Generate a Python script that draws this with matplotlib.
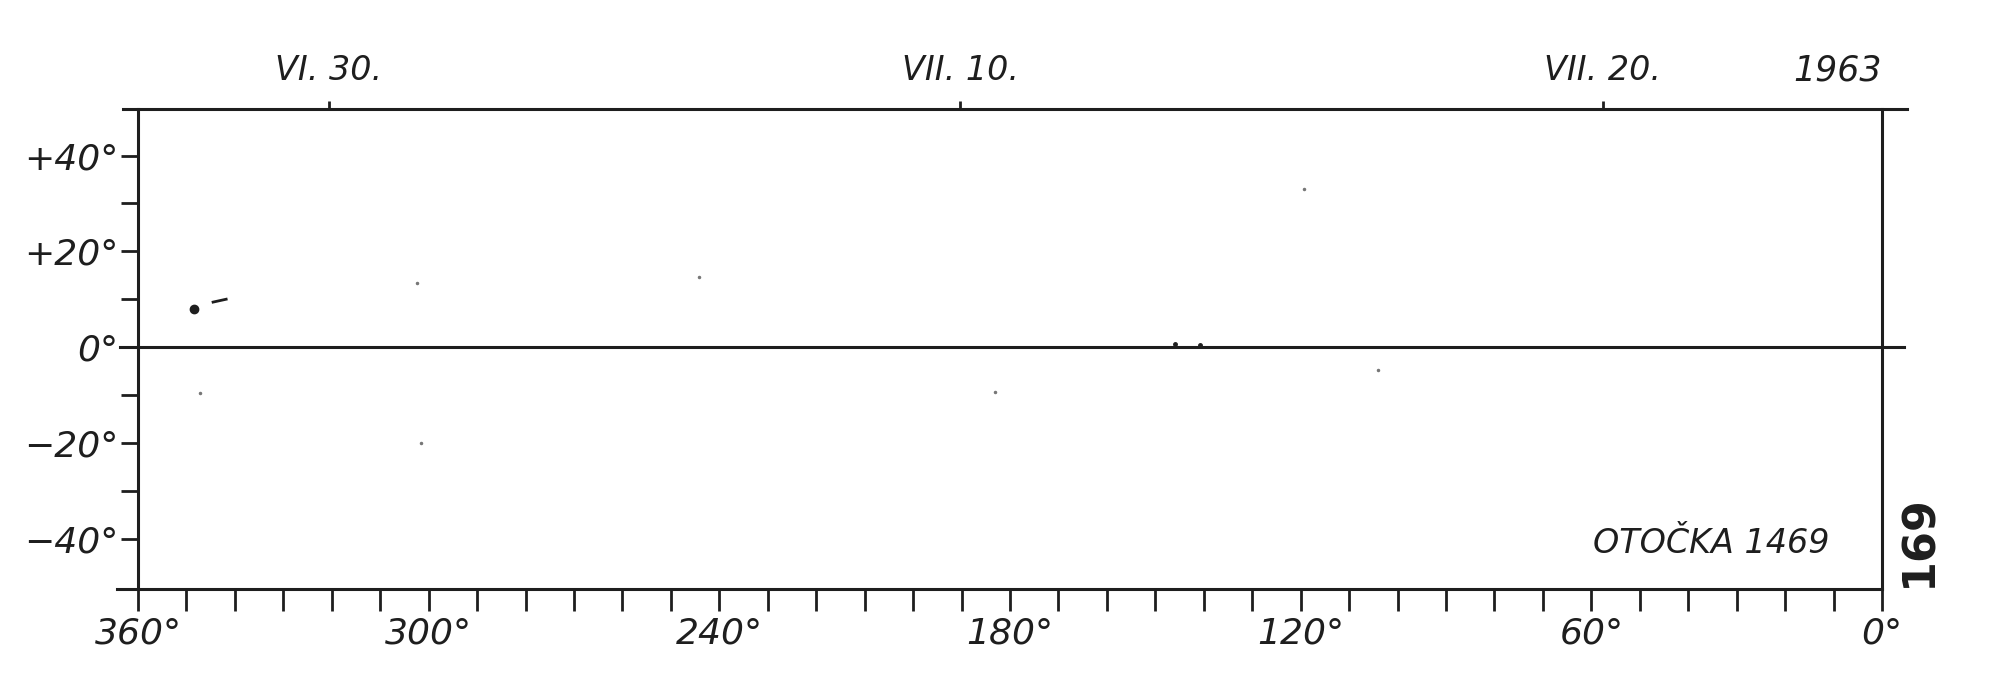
import numpy as np
import matplotlib
matplotlib.use("Agg")
import matplotlib.pyplot as plt

# chart values
lon_ticks = np.arange(0, 361, 10)
lon_labels = [360, 300, 240, 180, 120, 60, 0]
lat_ticks = np.arange(-40, 41, 10)
lat_labels = [40, 20, 0, -20, -40]
date_lon = [320.6, 190.3, 57.6]
date_text = ["VI. 30.", "VII. 10.", "VII. 20."]
year_text = "1963"
rotation_text = "OTOČKA 1469"
page_text = "169"

# spots
spot_lon = [348.4]
spot_lat = [7.9]
small_lon = [145.9, 140.8]
small_lat = [0.6, 0.5]
dash_lon = [344.5, 341.8]
dash_lat = [9.4, 10.0]
speck_lon = [302.4, 347.2, 301.6, 183.1, 244.2, 119.3, 104.0]
speck_lat = [13.4, -9.6, -20.0, -9.4, 14.6, 33.0, -4.8]

ink = "#1e1e1e"
font = dict(family="DejaVu Sans", style="italic", color=ink)

fig = plt.figure(figsize=(20, 6.86), dpi=100)
ax = fig.add_axes([0.069, 0.1414, 0.872, 0.6996])
ax.set_xlim(360, 0)
ax.set_ylim(-50.5, 49.7)

for s in ["top", "bottom"]:
    ax.spines[s].set_visible(False)
for s in ["left", "right"]:
    ax.spines[s].set_linewidth(2.2)
    ax.spines[s].set_color(ink)

# frame lines that run past the box
ax.plot([-0.0086, 1.0143], [1, 1], transform=ax.transAxes, color=ink, lw=2.2, clip_on=False)
ax.plot([-0.012, 1.0], [0, 0], transform=ax.transAxes, color=ink, lw=2.2, clip_on=False)
ax.axhline(0, xmin=-0.0103, xmax=1.0126, color=ink, lw=2.2, clip_on=False)

# x ticks
ax.set_xticks(lon_ticks)
ax.set_xticklabels([f"{v}°" if v in lon_labels else "" for v in lon_ticks], fontsize=26, **font)
ax.tick_params(axis="x", direction="out", length=16, width=2, color=ink, pad=4)

# y ticks
ax.set_yticks(lat_ticks)
ylab = []
for v in lat_ticks:
    if v in lat_labels:
        ylab.append(("+" if v > 0 else "" if v == 0 else "−") + f"{abs(v)}°")
    else:
        ylab.append("")
ax.set_yticklabels(ylab, fontsize=26, **font)
ax.tick_params(axis="y", direction="out", length=12, width=2, color=ink, pad=2)

# dates on top
top = ax.secondary_xaxis("top")
top.set_xticks(date_lon)
top.set_xticklabels(date_text, fontsize=24, **font)
top.tick_params(direction="out", length=6, width=2, color=ink, pad=10)
top.spines["top"].set_visible(False)

ax.text(1.0, 1.045, year_text, transform=ax.transAxes, ha="right", va="bottom", fontsize=25, **font)
ax.text(0.97, 0.06, rotation_text, transform=ax.transAxes, ha="right", va="bottom", fontsize=24, **font)
ax.text(1.021, 0.10, page_text, transform=ax.transAxes, ha="center", va="center",
        rotation=90, fontsize=32, fontweight="bold", family="DejaVu Sans", color=ink)

# data
ax.plot(spot_lon, spot_lat, "o", color=ink, ms=6)
ax.plot(dash_lon, dash_lat, "-", color=ink, lw=2)
ax.plot(small_lon, small_lat, "o", color=ink, ms=2.5)
ax.plot(speck_lon, speck_lat, "o", color="#777777", ms=1.5)

fig.savefig("out.png", dpi=100, facecolor="white")
